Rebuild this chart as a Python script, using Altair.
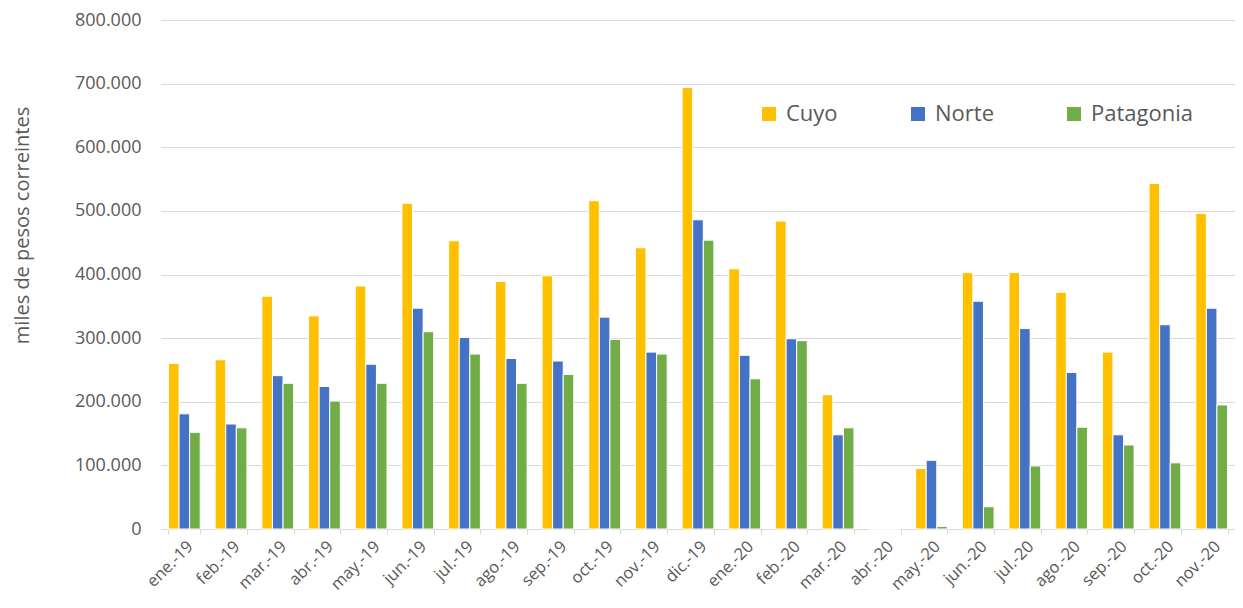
import altair as alt
import pandas as pd

months = ["ene.-19", "feb.-19", "mar.-19", "abr.-19", "may.-19", "jun.-19", "jul.-19",
          "ago.-19", "sep.-19", "oct.-19", "nov.-19", "dic.-19", "ene.-20", "feb.-20",
          "mar.-20", "abr.-20", "may.-20", "jun.-20", "jul.-20", "ago.-20", "sep.-20",
          "oct.-20", "nov.-20"]
cuyo = [260000, 266000, 366000, 335000, 382000, 512000, 453000, 389000, 398000, 516000,
        442000, 694000, 409000, 484000, 211000, 0, 95000, 403000, 403000, 372000, 278000,
        543000, 496000]
norte = [181000, 165000, 241000, 224000, 259000, 347000, 301000, 268000, 264000, 333000,
         278000, 486000, 273000, 299000, 148000, 0, 108000, 358000, 315000, 246000, 148000,
         321000, 347000]
patagonia = [152000, 159000, 229000, 201000, 229000, 310000, 275000, 229000, 243000, 298000,
             275000, 454000, 236000, 296000, 159000, 0, 4000, 35000, 99000, 160000, 132000,
             104000, 195000]
regions = ["Cuyo", "Norte", "Patagonia"]
colors = ["#FFC000", "#4472C4", "#70AD47"]

rows = []
for i, m in enumerate(months):
    for r, vals in zip(regions, [cuyo, norte, patagonia]):
        rows.append({"mes": m, "region": r, "valor": vals[i]})
df = pd.DataFrame(rows)

FONT = "Open Sans"

chart = alt.Chart(df).mark_bar(stroke="white", strokeWidth=1).encode(
    x=alt.X("mes:N", sort=months, title=None,
            scale=alt.Scale(paddingInner=0.32, paddingOuter=0.16),
            axis=alt.Axis(labelAngle=-45, labelFontSize=16.5, labelColor="#595959",
                          labelFont=FONT, domainColor="#D9D9D9", tickColor="#D9D9D9",
                          tickBand="extent", tickSize=5, labelPadding=4, grid=False)),
    xOffset=alt.XOffset("region:N", sort=regions, scale=alt.Scale(paddingInner=0.0)),
    y=alt.Y("valor:Q", title="miles de pesos correintes",
            scale=alt.Scale(domain=[0, 800000]),
            axis=alt.Axis(values=list(range(0, 800001, 100000)), labelFontSize=18,
                          labelColor="#595959", labelFont=FONT, domain=False, ticks=False,
                          gridColor="#D9D9D9", labelPadding=20,
                          labelExpr="replace(format(datum.value, ','), regexp(',', 'g'), '.')",
                          titleFontSize=20, titleFont=FONT, titleColor="#595959",
                          titleFontWeight="normal", titleX=-129, titleY=205)),
    color=alt.Color("region:N", sort=regions,
                    scale=alt.Scale(domain=regions, range=colors),
                    legend=alt.Legend(title=None, orient="none", legendX=597, legendY=83,
                                      direction="horizontal", columns=3,
                                      labelFontSize=22, labelFont=FONT, labelColor="#595959",
                                      symbolType="square", symbolSize=196,
                                      symbolStrokeWidth=0, columnPadding=69, labelOffset=6)),
).properties(
    width=1074, height=509,
    background="white",
    autosize=alt.AutoSizeParams(type="none"),
    padding={"left": 153, "top": 12, "right": 0, "bottom": 70},
).configure_view(strokeWidth=0)

chart.save("out.html", embed_options={"renderer": "svg", "actions": False})
